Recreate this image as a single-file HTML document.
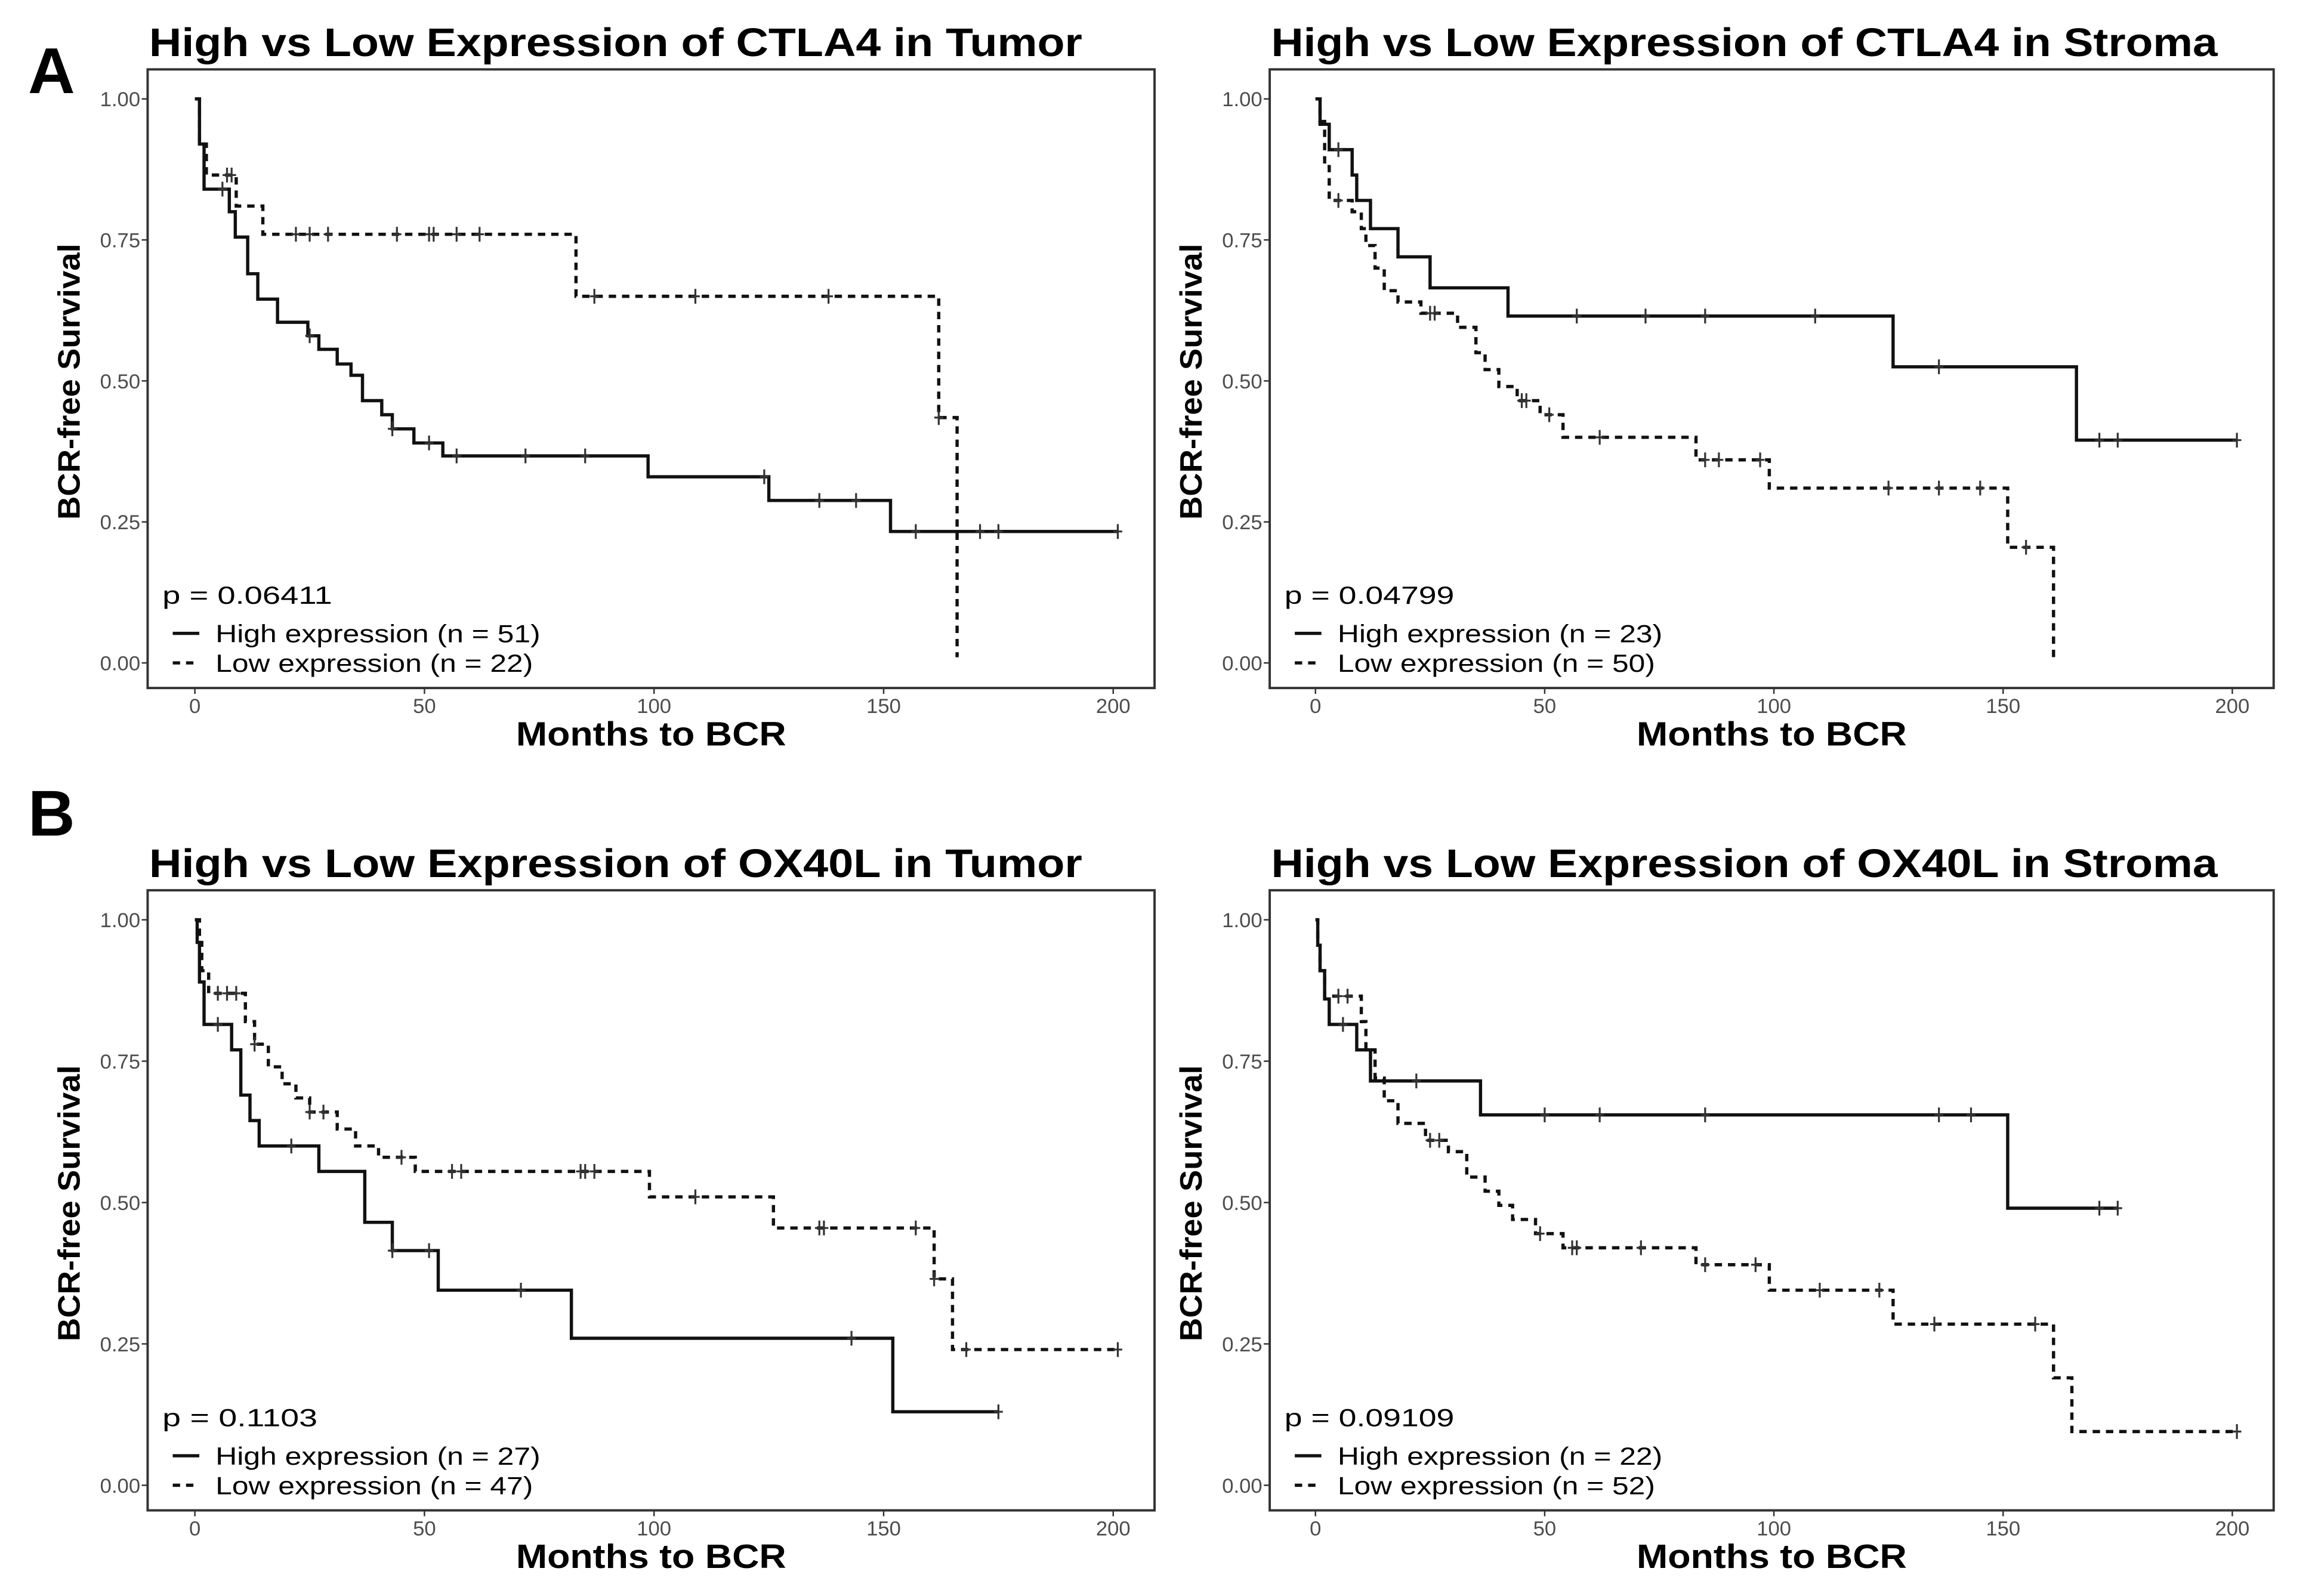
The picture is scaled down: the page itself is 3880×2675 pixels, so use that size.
<!DOCTYPE html>
<html><head><meta charset="utf-8"><style>
html,body{margin:0;padding:0;background:#fff}
svg{display:block}
text{font-family:"Liberation Sans",Arial,sans-serif}
</style></head><body>
<svg id="fig" width="3880" height="2675" viewBox="0 0 1568 1081" preserveAspectRatio="none" xmlns="http://www.w3.org/2000/svg">
<rect width="1568" height="1081" fill="#fff"/>
<text x="19" y="63" font-size="44" font-weight="bold">A</text>
<text x="19" y="566" font-size="44" font-weight="bold">B</text>
</svg>
<script>
// ---- data (months, survival) ----
const xTicks = [0, 50, 100, 150, 200];
const yTicks = [0, 0.25, 0.5, 0.75, 1.0];
const yTickLabels = ["0.00", "0.25", "0.50", "0.75", "1.00"];
const titles = ["High vs Low Expression of CTLA4 in Tumor","High vs Low Expression of CTLA4 in Stroma","High vs Low Expression of OX40L in Tumor","High vs Low Expression of OX40L in Stroma"];
const pValues = ["0.06411","0.04799","0.1103","0.09109"];
const nHigh = [51, 23, 27, 22];
const nLow = [22, 50, 47, 52];

const p1HighT = [0,1,2,7.5,8.8,11.5,13.7,18,24.6,27,31,34,36.5,40.7,43,47.7,54,98.7,125,151.5,201];
const p1HighS = [1,0.92,0.84,0.80,0.755,0.69,0.645,0.604,0.58,0.556,0.53,0.51,0.465,0.44,0.415,0.39,0.367,0.33,0.288,0.233,0.233];
const p1HighC = [[6,0.84],[25,0.58],[43,0.415],[51,0.39],[57,0.367],[72,0.367],[85,0.367],[124,0.33],[136,0.288],[144,0.288],[157,0.233],[171,0.233],[175,0.233],[201,0.233]];
const p1LowT = [0,1,2.5,9,14.8,83,162,166,166];
const p1LowS = [1,0.92,0.865,0.81,0.76,0.65,0.435,0.01,0.01];
const p1LowC = [[7,0.865],[8,0.865],[22,0.76],[25,0.76],[29,0.76],[44,0.76],[51,0.76],[52,0.76],[57,0.76],[62,0.76],[87,0.65],[109,0.65],[138,0.65],[162,0.435]];

const p2HighT = [0,1,3,8,9,12,18,25,42,126,166,201];
const p2HighS = [1,0.955,0.91,0.865,0.82,0.77,0.72,0.665,0.615,0.525,0.395,0.395];
const p2HighC = [[5,0.91],[57,0.615],[72,0.615],[85,0.615],[109,0.615],[136,0.525],[171,0.395],[175,0.395],[201,0.395]];
const p2LowT = [0,1,2,3,8,10,11,13,15,18,23,31,35,37,40,44,49,54,83,99,151,161,161];
const p2LowS = [1,0.96,0.88,0.82,0.80,0.77,0.74,0.70,0.66,0.64,0.62,0.595,0.55,0.52,0.49,0.465,0.44,0.40,0.36,0.31,0.205,0.0,0.0];
const p2LowC = [[5,0.82],[25,0.62],[26,0.62],[45,0.465],[46,0.465],[51,0.44],[62,0.40],[85,0.36],[88,0.36],[97,0.36],[125,0.31],[136,0.31],[145,0.31],[155,0.205]];

const p3HighT = [0,0.5,1,2,8,10,12,14,27,37,43,53,82,152,175];
const p3HighS = [1,0.96,0.89,0.815,0.77,0.69,0.645,0.60,0.555,0.465,0.415,0.345,0.26,0.13,0.13];
const p3HighC = [[5,0.815],[21,0.60],[43,0.415],[51,0.415],[71,0.345],[143,0.26],[175,0.13]];
const p3LowT = [0,1,1.5,3,11,13,16,19,22,25,31,35,40,48,99,126,161,165,201];
const p3LowS = [1,0.96,0.91,0.87,0.82,0.78,0.74,0.71,0.685,0.66,0.63,0.60,0.58,0.555,0.51,0.455,0.365,0.24,0.24];
const p3LowC = [[5,0.87],[7,0.87],[9,0.87],[13,0.78],[25,0.66],[28,0.66],[45,0.58],[56,0.555],[58,0.555],[84,0.555],[85,0.555],[87,0.555],[109,0.51],[136,0.455],[137,0.455],[157,0.455],[161,0.365],[168,0.24],[201,0.24]];

const p4HighT = [0,0.5,1,2,3,9,12,36,151,175];
const p4HighS = [1,0.955,0.91,0.86,0.815,0.77,0.715,0.655,0.49,0.49];
const p4HighC = [[6,0.815],[22,0.715],[50,0.655],[62,0.655],[85,0.655],[136,0.655],[143,0.655],[171,0.49],[175,0.49]];
const p4LowT = [0,0.5,1,2,10,11,13,15,18,24,29,33,37,40,43,48,54,83,99,126,161,165,201];
const p4LowS = [1,0.955,0.91,0.865,0.82,0.77,0.72,0.68,0.64,0.61,0.59,0.545,0.52,0.495,0.47,0.445,0.42,0.39,0.345,0.285,0.19,0.095,0.095];
const p4LowC = [[5,0.865],[7,0.865],[25,0.61],[27,0.61],[49,0.445],[56,0.42],[57,0.42],[71,0.42],[85,0.39],[96,0.39],[110,0.345],[123,0.345],[135,0.285],[157,0.285],[201,0.095]];

const panels = [
 {fx0:100,fx1:782,fy0:47,fy1:466,x0:132,x200:754,y1:67,y0:449,hT:p1HighT,hS:p1HighS,hC:p1HighC,lT:p1LowT,lS:p1LowS,lC:p1LowC},
 {fx0:860,fx1:1540,fy0:47,fy1:466,x0:891,x200:1512,y1:67,y0:449,hT:p2HighT,hS:p2HighS,hC:p2HighC,lT:p2LowT,lS:p2LowS,lC:p2LowC},
 {fx0:100,fx1:782,fy0:603,fy1:1023,x0:132,x200:754,y1:623,y0:1006,hT:p3HighT,hS:p3HighS,hC:p3HighC,lT:p3LowT,lS:p3LowS,lC:p3LowC},
 {fx0:860,fx1:1540,fy0:603,fy1:1023,x0:891,x200:1512,y1:623,y0:1006,hT:p4HighT,hS:p4HighS,hC:p4HighC,lT:p4LowT,lS:p4LowS,lC:p4LowC}
];
const NS="http://www.w3.org/2000/svg";
const svg=document.getElementById('fig');
function mk(tag,attrs,parent,txt){const e=document.createElementNS(NS,tag);for(const k in attrs)e.setAttribute(k,attrs[k]);if(txt!==undefined)e.textContent=txt;parent.appendChild(e);return e;}
panels.forEach((p,i)=>{
  const g=mk('g',{},svg);
  
  
  const sx=t=>p.x0+(p.x200-p.x0)*t/200;
  const sy=s=>p.y0+(p.y1-p.y0)*s;
  const title=mk('text',{x:p.fx0+1,y:p.fy0-9,'font-size':27,'font-weight':'bold',textLength:(i%2?641:632),lengthAdjust:'spacingAndGlyphs'},g,titles[i]);
  
  
  const fr=mk('rect',{x:p.fx0,y:p.fy0,width:p.fx1-p.fx0,height:p.fy1-p.fy0,fill:'none',stroke:'#333','stroke-width':1.6},g);
  
  
  xTicks.forEach(t=>{
    mk('line',{x1:sx(t),x2:sx(t),y1:p.fy1,y2:p.fy1+4,stroke:'#333','stroke-width':1},g);
    const l=mk('text',{x:sx(t),y:p.fy1+17,'font-size':14,fill:'#4d4d4d','text-anchor':'middle'},g,String(t));
    
    
  });
  yTicks.forEach((v,j)=>{
    mk('line',{x1:p.fx0-4,x2:p.fx0,y1:sy(v),y2:sy(v),stroke:'#333','stroke-width':1},g);
    const l=mk('text',{x:p.fx0-5,y:sy(v)+5,'font-size':14,fill:'#4d4d4d','text-anchor':'end'},g,yTickLabels[j]);
    
    
  });
  const xt=mk('text',{x:(p.fx0+p.fx1)/2,y:p.fy1+39,'font-size':23,'font-weight':'bold','text-anchor':'middle',textLength:183,lengthAdjust:'spacingAndGlyphs'},g,'Months to BCR');
  
  
  const cy=(p.fy0+p.fy1)/2+2, cx=p.fx0-46;
  const yt=mk('text',{x:cx,y:cy,'font-size':21,'font-weight':'bold','text-anchor':'middle',textLength:187,lengthAdjust:'spacingAndGlyphs',transform:`rotate(-90 ${cx} ${cy})`},g,'BCR-free Survival');
  
  
  function curve(T,S,C,dash,name){
    let d=`M${sx(T[0])},${sy(S[0])}`;
    for(let k=1;k<T.length;k++){d+=` H${sx(T[k])} V${sy(S[k])}`;}
    const a={d:d,fill:'none',stroke:'#111','stroke-width':2.2};
    if(dash)a['stroke-dasharray']='5,4';
    const path=mk('path',a,g);
    
    
    C.forEach(c=>{
      const m=mk('path',{d:`M${sx(c[0])},${sy(c[1])-5}V${sy(c[1])+5}M${sx(c[0])-3},${sy(c[1])}H${sx(c[0])+3}`,stroke:'#333','stroke-width':1.3},g);
      
      
    });
  }
  curve(p.hT,p.hS,p.hC,false,'high-expression');
  curve(p.lT,p.lS,p.lC,true,'low-expression');
  const by=p.fy1-57;
  const pt=mk('text',{x:p.fx0+10,y:by,'font-size':17,textLength:(i===2?105:115),lengthAdjust:'spacingAndGlyphs'},g,'p =  '+pValues[i]);
  
  
  mk('line',{x1:p.fx0+17,x2:p.fx0+35,y1:by+20,y2:by+20,stroke:'#111','stroke-width':2.2},g);
  const l1=mk('text',{x:p.fx0+46,y:by+26,'font-size':17,textLength:220,lengthAdjust:'spacingAndGlyphs'},g,'High expression (n = '+nHigh[i]+')');
  
  
  mk('line',{x1:p.fx0+17,x2:p.fx0+35,y1:by+40,y2:by+40,stroke:'#111','stroke-width':2.2,'stroke-dasharray':'5,4'},g);
  const l2=mk('text',{x:p.fx0+46,y:by+46,'font-size':17,textLength:215,lengthAdjust:'spacingAndGlyphs'},g,'Low expression (n = '+nLow[i]+')');
  
  
});
</script>
</body></html>
